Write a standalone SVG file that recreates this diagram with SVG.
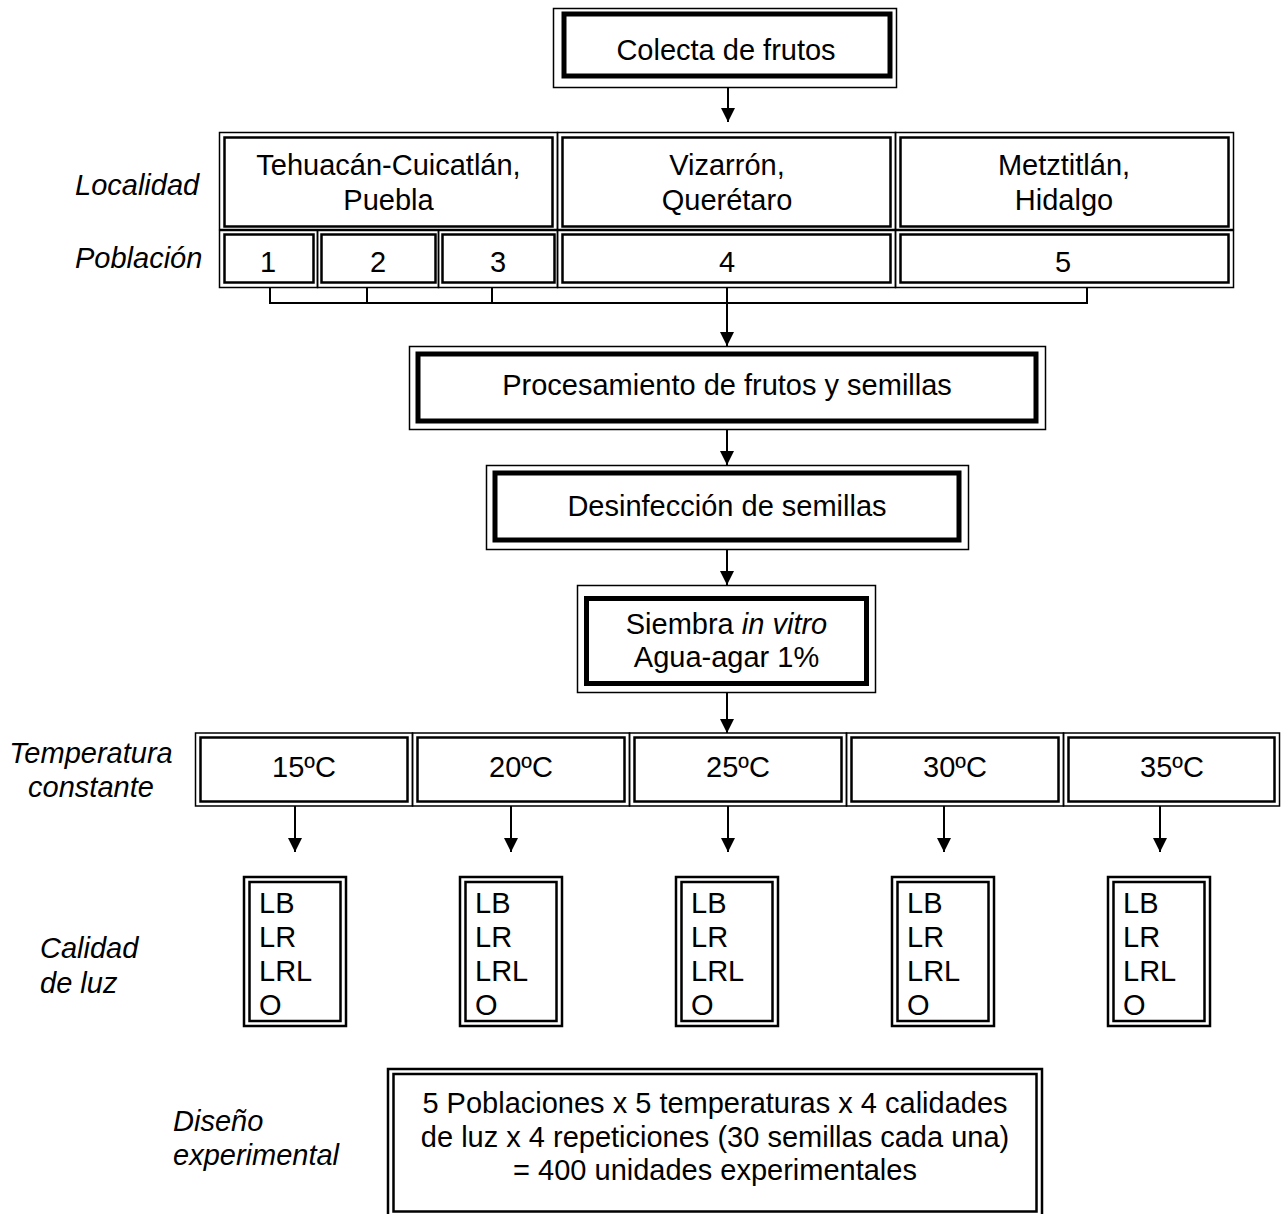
<svg xmlns="http://www.w3.org/2000/svg" width="1286" height="1214" viewBox="0 0 1286 1214">
<style>
text{font-family:"Liberation Sans",Arial,sans-serif;font-size:29px;fill:#000}
.c{text-anchor:middle}
.i{font-style:italic}
.o{fill:none;stroke:#000;stroke-width:1.5}
.ot{fill:none;stroke:#000;stroke-width:2.5}
.in{fill:none;stroke:#000;stroke-width:2.5}
.th{fill:none;stroke:#000;stroke-width:5}
.ln{fill:none;stroke:#000;stroke-width:2}
.ar{fill:none;stroke:#000;stroke-width:2;marker-end:url(#ah)}
</style>
<defs>
<marker id="ah" viewBox="0 0 14 14" refX="14" refY="7" markerWidth="14" markerHeight="14" markerUnits="userSpaceOnUse" orient="auto">
<path d="M0,0 L14,7 L0,14 z" fill="#000"/>
</marker>
</defs>
<rect width="1286" height="1214" fill="#fff"/>

<g id="labels">
<text class="i" x="75" y="195">Localidad</text>
<text class="i" x="75" y="268">Población</text>
<text class="i c" x="91" y="763">Temperatura</text>
<text class="i c" x="91" y="797">constante</text>
<text class="i" x="40" y="958">Calidad</text>
<text class="i" x="40" y="993">de luz</text>
<text class="i" x="173" y="1131">Diseño</text>
<text class="i" x="173" y="1165">experimental</text>
</g>

<g id="colecta">
<rect class="o" x="553.5" y="8.5" width="343" height="79"/>
<rect class="th" x="564" y="14" width="326" height="62"/>
<text class="c" x="726" y="60">Colecta de frutos</text>
</g>

<g id="loc-puebla">
<rect class="o" x="219.5" y="132.5" width="338" height="97"/>
<rect class="in" x="224.5" y="137.5" width="328" height="89"/>
<text class="c" x="388.5" y="175">Tehuacán-Cuicatlán,</text>
<text class="c" x="388.5" y="210">Puebla</text>
</g>
<g id="loc-queretaro">
<rect class="o" x="557.5" y="132.5" width="338" height="97"/>
<rect class="in" x="562.5" y="137.5" width="328" height="89"/>
<text class="c" x="727" y="175">Vizarrón,</text>
<text class="c" x="727" y="210">Querétaro</text>
</g>
<g id="loc-hidalgo">
<rect class="o" x="895.5" y="132.5" width="338" height="97"/>
<rect class="in" x="900.5" y="137.5" width="328" height="89"/>
<text class="c" x="1064" y="175">Metztitlán,</text>
<text class="c" x="1064" y="210">Hidalgo</text>
</g>

<g id="pob-1">
<rect class="o" x="219.5" y="230.5" width="98" height="57"/>
<rect class="in" x="224.5" y="234.5" width="89" height="48"/>
<text class="c" x="268" y="272">1</text>
</g>
<g id="pob-2">
<rect class="o" x="317.5" y="230.5" width="121" height="57"/>
<rect class="in" x="321.5" y="234.5" width="114" height="48"/>
<text class="c" x="378" y="272">2</text>
</g>
<g id="pob-3">
<rect class="o" x="438.5" y="230.5" width="119" height="57"/>
<rect class="in" x="442.5" y="234.5" width="112" height="48"/>
<text class="c" x="498" y="272">3</text>
</g>
<g id="pob-4">
<rect class="o" x="557.5" y="230.5" width="338" height="57"/>
<rect class="in" x="562.5" y="234.5" width="328" height="48"/>
<text class="c" x="727" y="272">4</text>
</g>
<g id="pob-5">
<rect class="o" x="895.5" y="230.5" width="338" height="57"/>
<rect class="in" x="900.5" y="234.5" width="328" height="48"/>
<text class="c" x="1063" y="272">5</text>
</g>

<g id="procesamiento">
<rect class="o" x="409.5" y="346.5" width="636" height="83"/>
<rect class="th" x="418" y="354" width="618" height="67"/>
<text class="c" x="727" y="395">Procesamiento de frutos y semillas</text>
</g>

<g id="desinfeccion">
<rect class="o" x="486.5" y="465.5" width="482" height="84"/>
<rect class="th" x="495" y="473" width="464" height="67"/>
<text class="c" x="727" y="516">Desinfección de semillas</text>
</g>

<g id="siembra">
<rect class="o" x="577.5" y="585.5" width="298" height="107"/>
<rect class="th" x="586.5" y="598.5" width="280" height="85"/>
<text class="c" x="726.5" y="634">Siembra <tspan class="i">in vitro</tspan></text>
<text class="c" x="726.5" y="667">Agua-agar 1%</text>
</g>

<g id="t15">
<rect class="o" x="195.5" y="733" width="217" height="73"/>
<rect class="in" x="200.5" y="737.5" width="207" height="64"/>
<text class="c" x="304" y="777">15ºC</text>
</g>
<g id="t20">
<rect class="o" x="412.5" y="733" width="217" height="73"/>
<rect class="in" x="417.5" y="737.5" width="207" height="64"/>
<text class="c" x="521" y="777">20ºC</text>
</g>
<g id="t25">
<rect class="o" x="629.5" y="733" width="217" height="73"/>
<rect class="in" x="634.5" y="737.5" width="207" height="64"/>
<text class="c" x="738" y="777">25ºC</text>
</g>
<g id="t30">
<rect class="o" x="846.5" y="733" width="217" height="73"/>
<rect class="in" x="851.5" y="737.5" width="207" height="64"/>
<text class="c" x="955" y="777">30ºC</text>
</g>
<g id="t35">
<rect class="o" x="1063.5" y="733" width="216" height="73"/>
<rect class="in" x="1068.5" y="737.5" width="206" height="64"/>
<text class="c" x="1172" y="777">35ºC</text>
</g>

<g id="luz-15">
<rect class="ot" x="244" y="877" width="102" height="149"/>
<rect class="in" x="249.5" y="882" width="91" height="139"/>
<text x="259" y="913">LB</text><text x="259" y="947">LR</text><text x="259" y="981">LRL</text><text x="259" y="1015">O</text>
</g>
<g id="luz-20">
<rect class="ot" x="460" y="877" width="102" height="149"/>
<rect class="in" x="465.5" y="882" width="91" height="139"/>
<text x="475" y="913">LB</text><text x="475" y="947">LR</text><text x="475" y="981">LRL</text><text x="475" y="1015">O</text>
</g>
<g id="luz-25">
<rect class="ot" x="676" y="877" width="102" height="149"/>
<rect class="in" x="681.5" y="882" width="91" height="139"/>
<text x="691" y="913">LB</text><text x="691" y="947">LR</text><text x="691" y="981">LRL</text><text x="691" y="1015">O</text>
</g>
<g id="luz-30">
<rect class="ot" x="892" y="877" width="102" height="149"/>
<rect class="in" x="897.5" y="882" width="91" height="139"/>
<text x="907" y="913">LB</text><text x="907" y="947">LR</text><text x="907" y="981">LRL</text><text x="907" y="1015">O</text>
</g>
<g id="luz-35">
<rect class="ot" x="1108" y="877" width="102" height="149"/>
<rect class="in" x="1113.5" y="882" width="91" height="139"/>
<text x="1123" y="913">LB</text><text x="1123" y="947">LR</text><text x="1123" y="981">LRL</text><text x="1123" y="1015">O</text>
</g>

<g id="diseno">
<rect class="ot" x="388" y="1069" width="654" height="148"/>
<rect class="in" x="393.5" y="1074" width="643" height="137.5"/>
<text class="c" x="715" y="1113">5 Poblaciones x 5 temperaturas x 4 calidades</text>
<text class="c" x="715" y="1147">de luz x 4 repeticiones (30 semillas cada una)</text>
<text class="c" x="715" y="1180">= 400 unidades experimentales</text>
</g>

<g id="connectors">
<path class="ar" d="M728,87 V122"/>
<path class="ln" d="M270,288 V303 H1087 V288 M367,288 V303 M492,288 V303"/>
<path class="ar" d="M727,288 V346"/>
<path class="ar" d="M727,429 V465"/>
<path class="ar" d="M727,549 V585"/>
<path class="ar" d="M727,693 V733"/>
<path class="ar" d="M295,806 V852"/>
<path class="ar" d="M511,806 V852"/>
<path class="ar" d="M728,806 V852"/>
<path class="ar" d="M944,806 V852"/>
<path class="ar" d="M1160,806 V852"/>
</g>
</svg>
